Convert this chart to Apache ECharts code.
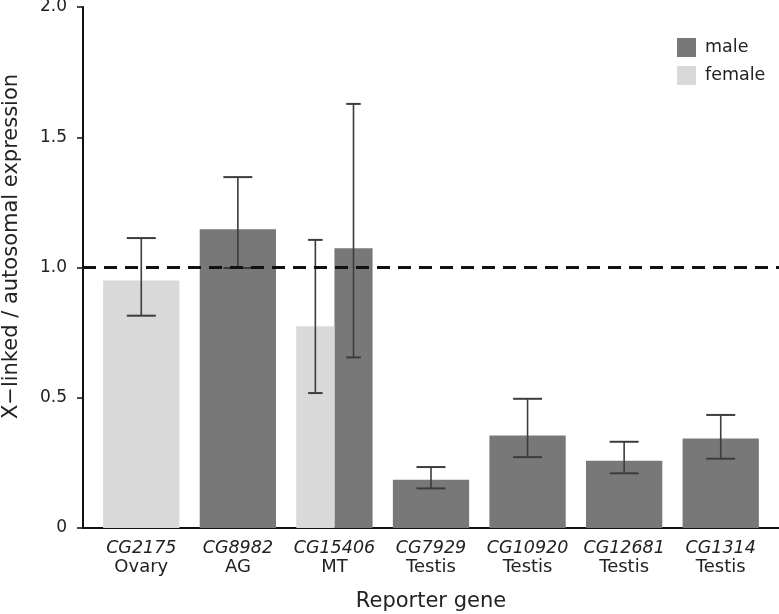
<!DOCTYPE html>
<html>
<head>
<meta charset="utf-8">
<script src="https://cdn.jsdelivr.net/npm/echarts@6/dist/echarts.min.js"></script>
<style>html,body{margin:0;padding:0;background:#fff}#c{width:779px;height:614px}</style>
</head>
<body>
<div id="c"></div>
<script>
const genes = ['CG2175', 'CG8982', 'CG15406', 'CG7929', 'CG10920', 'CG12681', 'CG1314'];
const tissues = ['Ovary', 'AG', 'MT', 'Testis', 'Testis', 'Testis', 'Testis'];
const maleMean = [null, 1.147, 1.074, 0.185, 0.355, 0.258, 0.344];
const maleLow  = [null, 0.998, 0.655, 0.152, 0.272, 0.210, 0.266];
const maleHigh = [null, 1.347, 1.628, 0.234, 0.496, 0.331, 0.434];
const femaleMean = [0.950, null, 0.774, null, null, null, null];
const femaleLow  = [0.815, null, 0.518, null, null, null, null];
const femaleHigh = [1.113, null, 1.106, null, null, null, null];
const yTicks = [0, 0.5, 1.0, 1.5, 2.0];
const referenceLevel = 1.0;

const FONT = 'DejaVu Sans';
const MALE_COLOR = '#787878';
const FEMALE_COLOR = '#d9d9d9';
const ERR_COLOR = '#3c3c3c';

function hasBoth(i) { return maleMean[i] != null && femaleMean[i] != null; }

function buildData(mean, low, high) {
  const out = [];
  for (let i = 0; i < genes.length; i++) {
    if (mean[i] != null) out.push([i, mean[i], low[i], high[i]]);
  }
  return out;
}

function makeRender(side) {
  return function (params, api) {
    const i = api.value(0);
    const v = api.value(1);
    const lo = api.value(2);
    const hi = api.value(3);
    const band = api.size([1, 0])[0];
    const base = api.coord([i, 0]);
    const top = api.coord([i, v]);
    const both = hasBoth(i);
    const full = band * 0.79;
    const w = both ? full / 2 : full;
    let cx = base[0];
    if (both) cx = side === 'male' ? base[0] + w / 2 : base[0] - w / 2;
    const yLo = api.coord([i, lo])[1];
    const yHi = api.coord([i, hi])[1];
    const cap = w * 0.38;
    const es = { stroke: ERR_COLOR, lineWidth: 1.6 };
    return {
      type: 'group',
      children: [
        { type: 'rect', shape: { x: cx - w / 2, y: top[1], width: w, height: base[1] - top[1] },
          style: { fill: side === 'male' ? MALE_COLOR : FEMALE_COLOR } },
        { type: 'line', shape: { x1: cx, y1: yLo, x2: cx, y2: yHi }, style: es },
        { type: 'line', shape: { x1: cx - cap / 2, y1: yLo, x2: cx + cap / 2, y2: yLo }, style: { stroke: ERR_COLOR, lineWidth: 2 } },
        { type: 'line', shape: { x1: cx - cap / 2, y1: yHi, x2: cx + cap / 2, y2: yHi }, style: { stroke: ERR_COLOR, lineWidth: 2 } }
      ]
    };
  };
}

const chart = echarts.init(document.getElementById('c'), null, { renderer: 'canvas' });
chart.setOption({
  animation: false,
  backgroundColor: '#fff',
  textStyle: { fontFamily: FONT },
  grid: [
    { left: 93, right: 10, top: 7, bottom: 86, outerBoundsMode: 'none', containLabel: false },
    { left: 83, right: 0, top: 7, bottom: 86, outerBoundsMode: 'none', containLabel: false }
  ],
  legend: {
    data: ['male', 'female'],
    orient: 'vertical',
    left: 672, top: 33,
    icon: 'rect', itemWidth: 19, itemHeight: 19, itemGap: 9,
    textStyle: { fontFamily: FONT, fontSize: 17.5, color: '#222', padding: [0, 0, 0, 4] }
  },
  xAxis: [
    {
      type: 'category', gridIndex: 0, data: genes,
      axisLine: { show: false }, axisTick: { show: false },
      axisLabel: {
        margin: 11, interval: 0,
        formatter: function (val, idx) { return '{g|' + val + '}\n{t|' + tissues[idx] + '}'; },
        rich: {
          g: { fontFamily: FONT, fontStyle: 'italic', fontSize: 17.5, lineHeight: 19, color: '#222' },
          t: { fontFamily: FONT, fontSize: 18, lineHeight: 19, color: '#222' }
        }
      },
      name: 'Reporter gene', nameLocation: 'middle', nameGap: 63,
      nameTextStyle: { fontFamily: FONT, fontSize: 21, color: '#222' }
    },
    {
      type: 'value', gridIndex: 1, min: 0, max: 1,
      axisLine: { show: true, lineStyle: { color: '#111', width: 2 } },
      axisTick: { show: false }, axisLabel: { show: false }, splitLine: { show: false }
    }
  ],
  yAxis: [
    { type: 'value', gridIndex: 0, min: 0, max: 2, interval: 0.5, show: false, splitLine: { show: false } },
    {
      type: 'value', gridIndex: 1, min: yTicks[0], max: yTicks[yTicks.length - 1], interval: 0.5,
      axisLine: { show: true, lineStyle: { color: '#111', width: 2 } },
      axisTick: { show: true, length: 6, lineStyle: { color: '#111', width: 1.5 } },
      axisLabel: {
        margin: 16, fontFamily: FONT, fontSize: 17, color: '#222',
        formatter: function (v) { return v === 0 ? '0' : v.toFixed(1); }
      },
      splitLine: { show: false },
      name: 'X\u2212linked / autosomal expression', nameLocation: 'middle', nameRotate: 90, nameGap: 61,
      nameTextStyle: { fontFamily: FONT, fontSize: 21, color: '#222', padding: [0, 0, 0, 42] }
    }
  ],
  series: [
    {
      name: 'male', type: 'custom', xAxisIndex: 0, yAxisIndex: 0, z: 2,
      itemStyle: { color: MALE_COLOR },
      renderItem: makeRender('male'),
      encode: { x: 0, y: 1 },
      data: buildData(maleMean, maleLow, maleHigh)
    },
    {
      name: 'female', type: 'custom', xAxisIndex: 0, yAxisIndex: 0, z: 2,
      itemStyle: { color: FEMALE_COLOR },
      renderItem: makeRender('female'),
      encode: { x: 0, y: 1 },
      data: buildData(femaleMean, femaleLow, femaleHigh)
    },
    {
      name: 'reference', type: 'line', xAxisIndex: 1, yAxisIndex: 1, z: 5,
      symbol: 'none', silent: true,
      lineStyle: { color: '#111', width: 3, type: [13, 8] },
      data: [[0, referenceLevel], [1, referenceLevel]]
    }
  ]
});
</script>
</body>
</html>
